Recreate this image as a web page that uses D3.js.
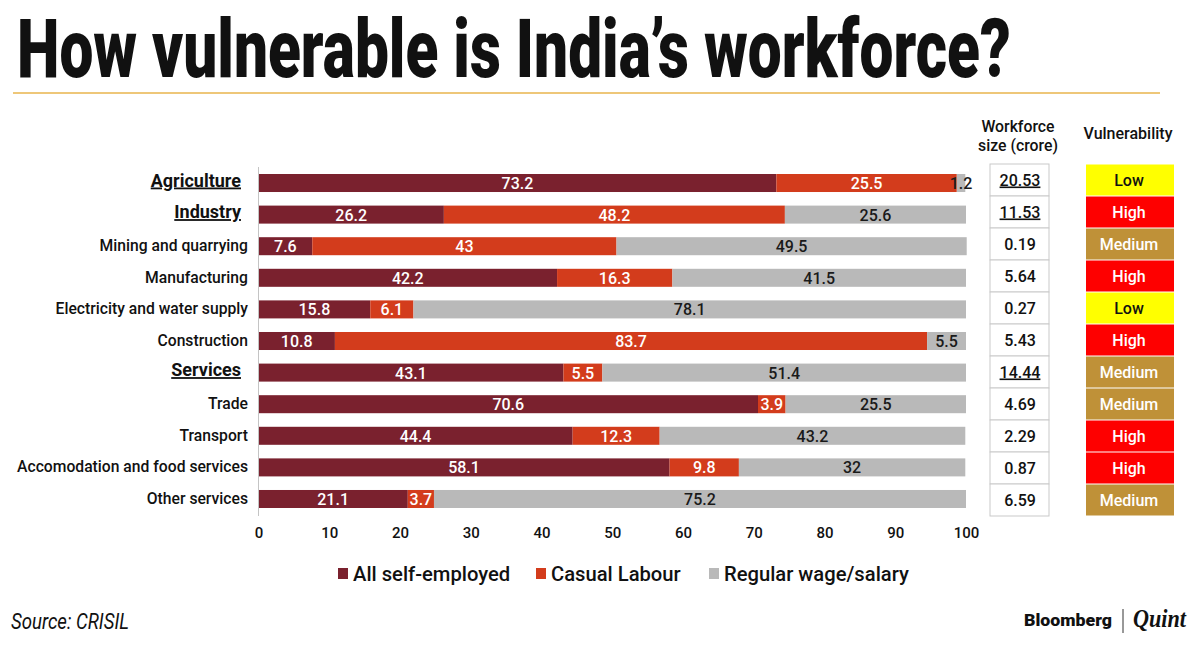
<!DOCTYPE html>
<html>
<head>
<meta charset="utf-8">
<title>How vulnerable is India's workforce?</title>
<script src="https://cdn.jsdelivr.net/npm/d3@7"></script>
<style>
  html, body { margin: 0; padding: 0; background: #fff; }
  svg { display: block; }
  text { font-family: Roboto, sans-serif; fill: #111; }
</style>
</head>
<body>
<svg id="chart" width="1200" height="645"></svg>
<script>
  // data
  var sectors = ['Agriculture', 'Industry', 'Mining and quarrying', 'Manufacturing',
    'Electricity and water supply', 'Construction', 'Services', 'Trade', 'Transport',
    'Accomodation and food services', 'Other services'];
  var headings = ['Agriculture', 'Industry', 'Services'];
  var seriesNames = ['All self-employed', 'Casual Labour', 'Regular wage/salary'];
  var selfEmployed = [73.2, 26.2, 7.6, 42.2, 15.8, 10.8, 43.1, 70.6, 44.4, 58.1, 21.1];
  var casualLabour = [25.5, 48.2, 43, 16.3, 6.1, 83.7, 5.5, 3.9, 12.3, 9.8, 3.7];
  var regularWage = [1.2, 25.6, 49.5, 41.5, 78.1, 5.5, 51.4, 25.5, 43.2, 32, 75.2];
  var workforce = ['20.53', '11.53', '0.19', '5.64', '0.27', '5.43', '14.44', '4.69', '2.29', '0.87', '6.59'];
  var vulnerability = ['Low', 'High', 'Medium', 'High', 'Low', 'High', 'Medium', 'Medium', 'High', 'High', 'Medium'];
  var xTicks = [0, 10, 20, 30, 40, 50, 60, 70, 80, 90, 100];

  var seriesColors = ['#7a212e', '#d33c1c', '#b9b9b9'];
  var labelColors = ['#fff', '#fff', '#1a1a1a'];
  var levelColors = { Low: '#ffff00', High: '#fe0000', Medium: '#bf9138' };
  var levelText = { Low: '#111', High: '#fff', Medium: '#fff' };

  var svg = d3.select('#chart');

  var x = d3.scaleLinear().domain([0, 100]).range([258.5, 966]);
  var y = d3.scaleBand().domain(sectors).range([174, 508]).paddingInner(0.43).paddingOuter(0);
  var rowY = d3.scaleBand().domain(sectors).range([164, 516]);

  // title: set small, then stretched to the reference's width and height
  var title = svg.append('text')
    .style('font-size', '40px').style('font-weight', 900)
    .text('How vulnerable is India\u2019s workforce?');
  var titleScaleX = 994 / title.node().getComputedTextLength();
  title.attr('transform', 'translate(17,77) scale(' + titleScaleX + ',2.03)');
  svg.append('line').attr('x1', 13).attr('x2', 1160).attr('y1', 93).attr('y2', 93)
    .attr('stroke', '#e9b44c').attr('stroke-width', 1.5);

  // stacked bars
  var stackInput = sectors.map(function(s, i){
    return { sector: s, 0: selfEmployed[i], 1: casualLabour[i], 2: regularWage[i] };
  });
  var stacked = d3.stack().keys([0, 1, 2])(stackInput);

  var groups = svg.selectAll('g.series').data(stacked).enter().append('g').attr('class', 'series');
  groups.selectAll('rect').data(function(d){ return d; }).enter().append('rect')
    .attr('x', function(d){ return x(d[0]); })
    .attr('width', function(d){ return x(d[1]) - x(d[0]); })
    .attr('y', function(d){ return y(d.data.sector); })
    .attr('height', y.bandwidth())
    .attr('fill', function(d, i){ return seriesColors[d3.select(this.parentNode).datum().key]; });

  // value labels go on top of all the bars (1.2 spills over its segment)
  stacked.forEach(function(layer){
    svg.append('g').selectAll('text').data(layer).enter().append('text')
      .attr('x', function(d){ return (x(d[0]) + x(d[1])) / 2; })
      .attr('y', function(d){ return y(d.data.sector) + y.bandwidth() / 2 + 6; })
      .attr('text-anchor', 'middle')
      .style('font-size', '16px').style('font-weight', 500)
      .style('fill', labelColors[layer.key])
      .text(function(d){ return d.data[layer.key]; });
  });

  // baseline
  svg.append('line').attr('x1', x(0)).attr('x2', x(0)).attr('y1', 167).attr('y2', 516)
    .attr('stroke', '#c4c4c4').attr('stroke-width', 1);

  // category labels
  svg.append('g').selectAll('text').data(sectors).enter().append('text')
    .attr('x', function(d){ return headings.indexOf(d) >= 0 ? 241 : 248; })
    .attr('y', function(d){ return y(d) + y.bandwidth() / 2 + (headings.indexOf(d) >= 0 ? 3.5 : 5); })
    .attr('text-anchor', 'end')
    .style('font-size', function(d){ return headings.indexOf(d) >= 0 ? '18px' : '15.7px'; })
    .style('font-weight', function(d){ return headings.indexOf(d) >= 0 ? 700 : 500; })
    .style('text-decoration', function(d){ return headings.indexOf(d) >= 0 ? 'underline' : null; })
    .text(function(d){ return d; });

  // x axis
  var xAxis = d3.axisBottom(x).tickValues(xTicks).tickSize(0).tickPadding(0);
  var axisG = svg.append('g').attr('transform', 'translate(0,527)').call(xAxis);
  axisG.select('.domain').remove();
  axisG.selectAll('text').style('font-size', '15px').style('font-weight', 500)
    .style('font-family', 'Roboto, sans-serif').style('fill', '#111');

  // legend
  var legendX = [338, 536, 709];
  var legend = svg.append('g').selectAll('g').data(seriesNames).enter().append('g')
    .attr('transform', function(d, i){ return 'translate(' + legendX[i] + ',568)'; });
  legend.append('rect').attr('width', 10).attr('height', 11)
    .attr('fill', function(d, i){ return seriesColors[i]; });
  legend.append('text').attr('x', 15).attr('y', 12.5)
    .style('font-size', '20.2px').style('font-weight', 500)
    .text(function(d){ return d; });

  // workforce column
  svg.append('text').attr('x', 1018).attr('y', 132).attr('text-anchor', 'middle')
    .style('font-size', '15.8px').style('font-weight', 500).text('Workforce');
  svg.append('text').attr('x', 1018).attr('y', 151).attr('text-anchor', 'middle')
    .style('font-size', '15.8px').style('font-weight', 500).text('size (crore)');

  var wfRows = svg.append('g').selectAll('g').data(sectors).enter().append('g');
  wfRows.append('rect').attr('x', 990).attr('width', 59)
    .attr('y', function(d){ return rowY(d); }).attr('height', rowY.bandwidth())
    .attr('fill', '#fff').attr('stroke', '#c9c9c9');
  wfRows.append('text').attr('x', 1020)
    .attr('y', function(d){ return rowY(d) + rowY.bandwidth() / 2 + 5.5; })
    .attr('text-anchor', 'middle')
    .style('font-size', '16px').style('font-weight', 500)
    .style('text-decoration', function(d){ return headings.indexOf(d) >= 0 ? 'underline' : null; })
    .text(function(d, i){ return workforce[i]; });

  // vulnerability column
  svg.append('text').attr('x', 1128).attr('y', 139).attr('text-anchor', 'middle')
    .style('font-size', '16px').style('font-weight', 500).text('Vulnerability');

  var vuRows = svg.append('g').selectAll('g').data(sectors).enter().append('g');
  vuRows.append('rect').attr('x', 1086).attr('width', 88)
    .attr('y', function(d){ return rowY(d) + 0.5; }).attr('height', rowY.bandwidth() - 1)
    .attr('fill', function(d, i){ return levelColors[vulnerability[i]]; });
  vuRows.append('text').attr('x', 1129)
    .attr('y', function(d){ return rowY(d) + rowY.bandwidth() / 2 + 5.5; })
    .attr('text-anchor', 'middle')
    .style('font-size', '16px').style('font-weight', 500)
    .style('fill', function(d, i){ return levelText[vulnerability[i]]; })
    .text(function(d, i){ return vulnerability[i]; });

  // footer
  svg.append('text').attr('x', 11).attr('y', 629)
    .attr('textLength', 118).attr('lengthAdjust', 'spacingAndGlyphs')
    .style('font-size', '22px').style('font-style', 'italic').style('font-weight', 400)
    .text('Source: CRISIL');
  svg.append('text').attr('x', 1024).attr('y', 626)
    .attr('textLength', 88).attr('lengthAdjust', 'spacingAndGlyphs')
    .style('font-size', '17px').style('font-weight', 900).text('Bloomberg');
  svg.append('line').attr('x1', 1123).attr('x2', 1123).attr('y1', 609).attr('y2', 633)
    .attr('stroke', '#333').attr('stroke-width', 1);
  svg.append('text').attr('x', 1133).attr('y', 627)
    .attr('textLength', 53).attr('lengthAdjust', 'spacingAndGlyphs')
    .style('font-family', '"Liberation Serif", serif').style('font-style', 'italic')
    .style('font-size', '25px').style('font-weight', 700).text('Quint');
</script>
</body>
</html>
